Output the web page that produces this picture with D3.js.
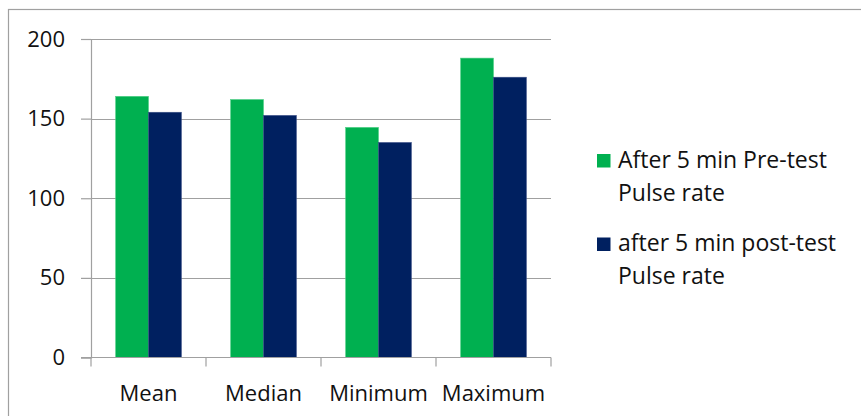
<!DOCTYPE html>
<html>
<head>
<meta charset="utf-8">
<script src="https://cdn.jsdelivr.net/npm/d3@7/dist/d3.min.js"></script>
<style>
  html, body { margin: 0; padding: 0; background: #fff; }
  svg { display: block; }
  text { font-family: "Open Sans", "Noto Sans", sans-serif; fill: #111; }
</style>
</head>
<body>
<svg id="chart" width="861" height="416"></svg>
<script>
// Pulse-rate summary statistics
const categories = ["Mean", "Median", "Minimum", "Maximum"];
const seriesNames = ["After 5 min Pre-test Pulse rate", "after 5 min post-test Pulse rate"];
const legendLines = [["After 5 min Pre-test", "Pulse rate"], ["after 5 min post-test", "Pulse rate"]];
const preTest = [164, 162, 144.5, 188];
const postTest = [154, 152, 135, 176];
const yTicks = [0, 50, 100, 150, 200];
const colors = ["#00B050", "#002060"];

const svg = d3.select("#chart");
const W = 861, H = 416;
const plot = { left: 91, right: 551, top: 39, bottom: 357.5 };
const axisColor = "#a0a0a0";

// Outer chart frame (runs past the right and bottom edges)
svg.append("rect")
  .attr("x", 8.5).attr("y", 9.5)
  .attr("width", W + 20).attr("height", H + 20)
  .attr("fill", "none").attr("stroke", axisColor).attr("stroke-width", 1.2);

const x = d3.scaleBand().domain(categories).range([plot.left, plot.right]).padding(0);
const xInner = d3.scaleBand().domain(seriesNames).range([0, x.bandwidth()])
  .paddingInner(0).paddingOuter(0.75);
const y = d3.scaleLinear().domain([0, 200]).range([plot.bottom, plot.top]);

// Horizontal gridlines
svg.append("g").selectAll("line").data(yTicks.filter(t => t > 0)).join("line")
  .attr("x1", plot.left).attr("x2", plot.right)
  .attr("y1", d => Math.round(y(d)) + 0.5).attr("y2", d => Math.round(y(d)) + 0.5)
  .attr("stroke", axisColor).attr("stroke-width", 1.2);

// Bars
const rows = categories.map((c, i) => ({ cat: c, vals: [preTest[i], postTest[i]] }));
const groups = svg.append("g").selectAll("g").data(rows).join("g")
  .attr("transform", d => `translate(${x(d.cat)},0)`);
groups.selectAll("rect").data(d => d.vals.map((v, j) => ({ v, s: seriesNames[j], j }))).join("rect")
  .attr("x", d => xInner(d.s))
  .attr("width", xInner.bandwidth())
  .attr("y", d => y(d.v))
  .attr("height", d => y(0) - y(d.v))
  .attr("fill", d => colors[d.j])
  .attr("stroke", d => d.j === 0 ? "#4fcf85" : "#3a4f86")
  .attr("stroke-width", 0.6);

// Y axis
const yAxis = d3.axisLeft(y).tickValues(yTicks).tickSize(10).tickPadding(16).tickFormat(d3.format("d"));
const gy = svg.append("g").attr("transform", `translate(${plot.left},0)`).call(yAxis);
gy.select(".domain").attr("stroke", axisColor).attr("stroke-width", 1.2);
gy.selectAll(".tick line").attr("stroke", axisColor).attr("stroke-width", 1.2);
gy.selectAll(".tick text").attr("font-size", 22).attr("fill", "#111")
  .style("font-family", "'Open Sans', 'Noto Sans', sans-serif");

// X axis with category boundary ticks
const gx = svg.append("g").attr("transform", `translate(0,${plot.bottom})`);
gx.append("line").attr("x1", plot.left - 10).attr("x2", plot.right)
  .attr("stroke", axisColor).attr("stroke-width", 1.2);
const bounds = categories.map(c => x(c)).concat([x(categories[categories.length - 1]) + x.bandwidth()]);
gx.selectAll(".bt").data(bounds).join("line").attr("class", "bt")
  .attr("x1", d => d).attr("x2", d => d).attr("y1", 0).attr("y2", 9)
  .attr("stroke", axisColor).attr("stroke-width", 1.2);
gx.selectAll(".lbl").data(categories).join("text").attr("class", "lbl")
  .attr("x", d => x(d) + x.bandwidth() / 2).attr("y", 43.5)
  .attr("text-anchor", "middle").attr("font-size", 22)
  .text(d => d);

// Legend
const legend = svg.append("g");
const legendTop = [154, 237.5];
legendLines.forEach((lines, i) => {
  const g = legend.append("g").attr("transform", `translate(597,${legendTop[i]})`);
  g.append("rect").attr("width", 13.5).attr("height", 13.5).attr("fill", colors[i]);
  lines.forEach((t, k) => {
    g.append("text").attr("x", 21).attr("y", 13.5 + k * 33)
      .attr("font-size", 23).text(t);
  });
});
</script>
</body>
</html>
